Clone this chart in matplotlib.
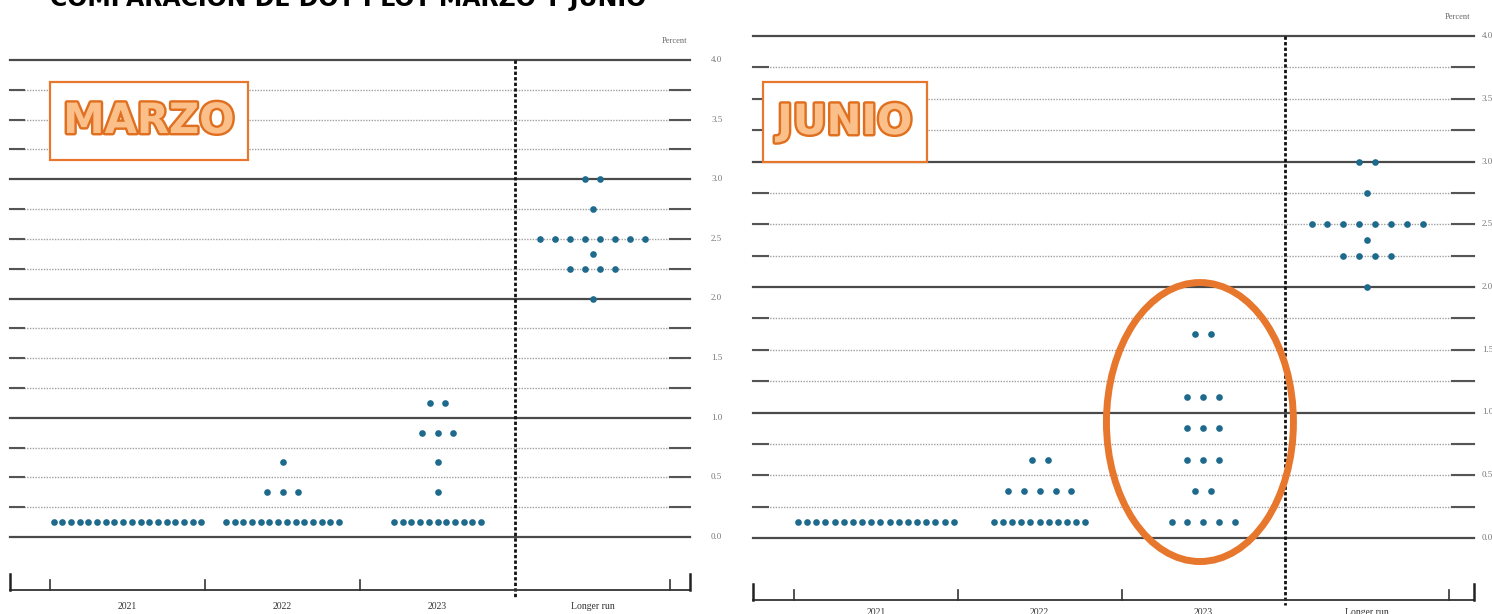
import matplotlib
matplotlib.use('Agg')
import matplotlib.pyplot as plt
import matplotlib.patheffects as pe
from matplotlib.patches import Rectangle, Ellipse

# columns of the dot plot
years = ['2021', '2022', '2023', 'Longer run']
ytick_vals = [0.0, 0.5, 1.0, 1.5, 2.0, 2.5, 3.0, 3.5, 4.0]
grid_vals = [i * 0.25 for i in range(17)]

# (rate, number of participants) per column, march SEP
mar_2021 = [(0.125, 18)]
mar_2022 = [(0.125, 14), (0.375, 3), (0.625, 1)]
mar_2023 = [(0.125, 11), (0.375, 1), (0.625, 1), (0.875, 3), (1.125, 2)]
mar_lr = [(2.0, 1), (2.25, 4), (2.375, 1), (2.5, 8), (2.75, 1), (3.0, 2)]

# june SEP
jun_2021 = [(0.125, 18)]
jun_2022 = [(0.125, 11), (0.375, 5), (0.625, 2)]
jun_2023 = [(0.125, 5), (0.375, 2), (0.625, 3), (0.875, 3), (1.125, 3), (1.625, 2)]
jun_lr = [(2.0, 1), (2.25, 4), (2.375, 1), (2.5, 8), (2.75, 1), (3.0, 2)]

DOT = '#1d6a8c'
ORANGE = '#e8772e'

W, H = 1492, 614
fig = plt.figure(figsize=(W / 100, H / 100), dpi=100)
fig.patch.set_facecolor('white')


def make_axes(px0, px1, x_zero, x_unit, y_zero, y_unit):
    # axes covering pixels px0..px1 horizontally, full height
    ax = fig.add_axes([px0 / W, 0, (px1 - px0) / W, 1])
    ax.set_xlim((px0 - x_zero) / x_unit, (px1 - x_zero) / x_unit)
    ax.set_ylim((y_zero - H) / y_unit, y_zero / y_unit)
    ax.set_axis_off()
    return ax


def draw_panel(ax, cols, x_left, x_right, lab_x, pct_y, axis_y, div_bot, lab_y):
    # horizontal grid
    for v in grid_vals:
        if v == int(v):
            ax.plot([x_left, x_right], [v, v], color='#4a4a4a', lw=1.6, zorder=1)
        else:
            ax.plot([x_left, x_right], [v, v], color='#a0a0a0', lw=1.0,
                    linestyle=(0, (1, 1)), zorder=1)
            ax.plot([x_right - 0.13, x_right], [v, v], color='#555555', lw=1.5, zorder=1)
            ax.plot([x_left, x_left + 0.09], [v, v], color='#555555', lw=1.5, zorder=1)
    for v in ytick_vals:
        ax.text(lab_x, v, f'{v:.1f}', fontsize=6.5, family='Liberation Serif',
                color='#777777', va='center', ha='left', clip_on=False)
    ax.text(x_right - 0.1, pct_y, 'Percent', fontsize=6, family='Liberation Serif',
            color='#666666', ha='center', va='center')

    # divider before longer run
    ax.plot([3, 3], [4.0, div_bot], color='#111111', lw=2.0,
            linestyle=(0, (1.2, 0.8)), zorder=2)

    # bottom axis
    ax.plot([x_left, x_right], [axis_y, axis_y], color='#333333', lw=1.3)
    for xe in (x_left, x_right):
        ax.plot([xe, xe], [axis_y, axis_y + 0.13], color='#222222', lw=1.8)
    for xt in (0, 1, 2, 4):
        ax.plot([xt, xt], [axis_y, axis_y + 0.08], color='#333333', lw=1.2)
    for i, name in enumerate(years):
        ax.text(i + 0.5, lab_y, name, fontsize=7, family='Liberation Serif',
                color='#333333', ha='center', va='center')

    # dots
    for i, col in enumerate(cols):
        for rate, n in col:
            step = 0.056 if n > 8 else 0.097
            xs = [i + 0.5 + (k - (n - 1) / 2) * step for k in range(n)]
            ax.plot(xs, [rate] * n, 'o', color=DOT, markersize=4.8,
                    markeredgewidth=0, zorder=4)


def label_box(ax, x0, y0, w, h, text):
    ax.add_patch(Rectangle((x0, y0), w, h, facecolor='white', edgecolor=ORANGE,
                           lw=1.6, zorder=5))
    ax.text(x0 + w / 2, y0 + h / 2, text, fontsize=30, fontweight='bold',
            color='#fbc08a', ha='center', va='center', zorder=6,
            path_effects=[pe.withStroke(linewidth=3.5, foreground='#e07020')])


# left panel: marzo
axl = make_axes(0, 744, 50, 155.0, 537, 119.25)
draw_panel(axl, [mar_2021, mar_2022, mar_2023, mar_lr], -0.26, 4.13, 4.265,
           4.16, -0.444, -0.51, -0.58)
label_box(axl, 0.0, 3.161, 1.277, 0.655, 'MARZO')

# right panel: junio
axr = make_axes(746, 1492, 794, 163.75, 538, 125.5)
draw_panel(axr, [jun_2021, jun_2022, jun_2023, jun_lr], -0.25, 4.15, 4.2,
           4.15, -0.494, -0.534, -0.59)
label_box(axr, -0.189, 2.996, 1.001, 0.637, 'JUNIO')
axr.add_patch(Ellipse((2.479, 0.924), 1.142, 2.223, fill=False,
                      edgecolor=ORANGE, lw=5, zorder=6))

# title, cut off at the top edge as in the source screenshot
fig.text(50 / W, 1 - 6 / H, 'COMPARACION DE DOT PLOT MARZO Y JUNIO',
         fontsize=17, fontweight='bold', color='black', ha='left', va='baseline')

fig.savefig('out.png', dpi=100, facecolor='white')
